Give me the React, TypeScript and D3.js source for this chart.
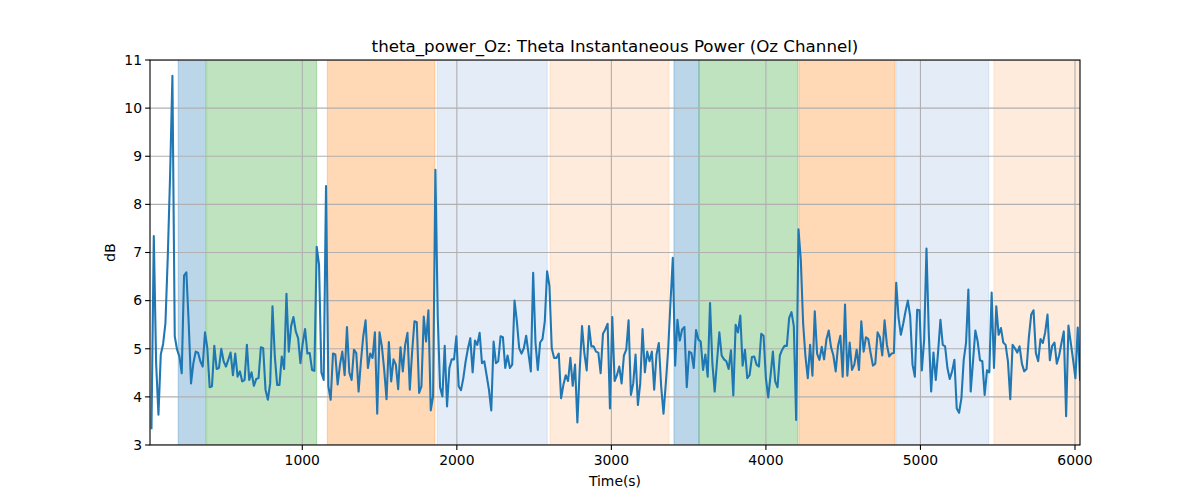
import React from "react";
import * as d3 from "d3";

const TITLE = "theta_power_Oz: Theta Instantaneous Power (Oz Channel)";
const X_LABEL = "Time(s)";
const Y_LABEL = "dB";

const X_DOMAIN = [14.5, 6032.4];
const T_START = 24;
const T_STEP = 15.06;

const POWER_DB: number[] = [
  3.35, 7.34, 4.7, 3.63, 4.88, 5.1, 5.53, 6.9, 8.6, 10.67,
  5.26, 4.98, 4.84, 4.49, 6.52, 6.59, 5.53, 4.28, 4.7, 4.94,
  4.92, 4.74, 4.63, 5.34, 5.01, 4.2, 4.22, 5.06, 4.58, 4.6,
  5.0, 4.74, 4.63, 4.77, 4.92, 4.45, 4.9, 4.42, 4.53, 4.32,
  4.35, 5.08, 4.35, 4.51, 4.23, 4.37, 4.39, 5.03, 5.01, 4.15,
  3.94, 4.28, 5.88, 4.84, 4.25, 4.25, 4.84, 4.58, 6.14, 4.94,
  5.47, 5.66, 5.36, 5.22, 4.7, 5.12, 5.41, 4.9, 4.91, 4.56,
  4.54, 7.12, 6.75, 4.51, 4.35, 8.38, 4.22, 3.94, 4.9, 4.88,
  4.26, 4.67, 4.94, 4.45, 5.45, 4.51, 4.35, 4.98, 4.91, 4.11,
  4.74, 5.26, 5.59, 4.6, 4.9, 4.81, 5.34, 3.65, 5.34, 5.05,
  4.56, 3.95, 5.14, 4.32, 4.78, 4.67, 4.16, 5.03, 4.53, 5.08,
  5.33, 4.15, 4.94, 5.57, 5.55, 4.08, 4.22, 5.67, 5.15, 5.8,
  3.72, 4.01, 8.72, 5.67, 4.2, 4.01, 5.06, 3.8, 4.6, 4.78,
  4.78, 5.26, 4.22, 4.14, 4.39, 4.74, 5.01, 5.22, 4.51, 5.17,
  5.08, 5.33, 4.7, 4.74, 4.45, 4.15, 3.72, 5.15, 4.7, 4.74,
  5.26, 5.24, 4.6, 4.86, 4.6, 4.67, 6.0, 5.57, 5.01, 4.9,
  5.01, 5.27, 4.9, 4.53, 6.58, 5.13, 4.56, 5.13, 5.2, 5.57,
  6.61, 6.3, 5.01, 4.81, 4.81, 4.9, 3.97, 4.25, 4.45, 4.33,
  4.81, 4.23, 4.67, 3.47, 4.56, 5.47, 4.91, 4.55, 5.47, 5.05,
  5.05, 4.94, 4.92, 4.49, 5.31, 5.4, 5.52, 3.76, 5.66, 4.33,
  4.45, 4.63, 4.28, 4.86, 4.98, 5.59, 4.04, 4.28, 4.88, 3.83,
  4.28, 5.41, 4.51, 4.94, 4.74, 4.94, 4.15, 4.88, 5.12, 4.22,
  3.65, 4.28, 4.98, 5.95, 6.89, 4.65, 5.6, 5.17, 5.4, 5.45,
  4.2, 4.94, 4.91, 4.6, 5.39, 5.19, 5.15, 4.56, 4.88, 4.42,
  5.95, 4.7, 4.11, 4.74, 5.34, 4.86, 4.78, 4.74, 4.58, 4.97,
  4.03, 5.5, 5.34, 5.69, 4.65, 4.98, 4.39, 4.45, 4.83, 4.84,
  4.67, 4.63, 5.31, 5.27, 4.39, 3.99, 4.44, 4.94, 4.32, 4.2,
  4.86, 4.98, 5.06, 5.06, 5.64, 5.76, 5.47, 3.52, 7.48, 6.85,
  5.53, 4.84, 4.39, 5.08, 4.44, 5.78, 4.9, 4.77, 5.04, 4.78,
  5.19, 5.38, 5.03, 4.86, 4.53, 5.06, 5.27, 4.42, 5.92, 4.44,
  5.13, 4.56, 4.67, 4.98, 4.56, 5.57, 4.94, 5.24, 5.2, 4.91,
  4.65, 4.69, 5.34, 5.24, 4.86, 5.59, 5.08, 4.84, 4.9, 4.91,
  6.37, 5.64, 5.29, 5.52, 5.78, 6.0, 5.67, 4.67, 4.42, 5.81,
  5.8, 4.55, 5.19, 7.08, 5.33, 4.11, 4.92, 4.35, 4.94, 5.6,
  5.08, 5.05, 4.6, 4.37, 4.53, 4.77, 3.76, 3.67, 3.97, 4.77,
  5.12, 6.23, 4.11, 4.74, 5.38, 5.15, 4.76, 4.74, 4.04, 4.55,
  4.51, 6.17, 4.6, 5.88, 5.29, 5.43, 5.13, 5.08, 4.74, 3.95,
  5.08, 5.01, 4.92, 5.05, 4.69, 4.53, 4.58, 5.24, 5.71, 5.8,
  4.91, 4.74, 5.2, 5.12, 5.34, 5.71, 4.76, 5.06, 5.13, 4.69,
  4.86, 5.12, 5.36, 3.6, 5.48, 5.12, 4.77, 4.39, 5.44, 4.35,
  5.08,
];

const TIMES: number[] = POWER_DB.map((_, i) => T_START + i * T_STEP);

const SPAN_STARTS = [197, 381, 1162, 1873, 2603, 3405, 3567, 4214, 4841, 5475];
const SPAN_ENDS = [375, 1093, 1858, 2585, 3373, 3567, 4207, 4835, 5442, 6040];
const SPAN_KINDS = ["blue", "green", "orange", "lightblue", "lightorange", "blue", "green", "orange", "lightblue", "lightorange"];

const SPAN_STYLE: Record<string, { color: string; alpha: number }> = {
  blue: { color: "#1f77b4", alpha: 0.3 },
  green: { color: "#2ca02c", alpha: 0.3 },
  orange: { color: "#ff7f0e", alpha: 0.3 },
  lightblue: { color: "#3a78c4", alpha: 0.14 },
  lightorange: { color: "#fb8a2e", alpha: 0.17 },
};

const Y_TICKS = [3, 4, 5, 6, 7, 8, 9, 10, 11];
const X_TICKS = [1000, 2000, 3000, 4000, 5000, 6000];

const W = 1200;
const H = 500;
const L = 150;
const R = 1080;
const T = 60;
const B = 445;
const FONT = "DejaVu Sans, sans-serif";

export default function App() {
  const x = d3.scaleLinear().domain(X_DOMAIN).range([L, R]);
  const y = d3.scaleLinear().domain([3, 11]).range([B, T]);
  const line = d3
    .line<number>()
    .x((_, i) => x(TIMES[i]))
    .y((d) => y(d));
  const pathD = line(POWER_DB) || "";

  return (
    <svg
      width={W}
      height={H}
      style={{ position: "absolute", left: 0, top: 0, background: "#fff" }}
      fontFamily={FONT}
    >
      <rect x={0} y={0} width={W} height={H} fill="#fff" />
      <defs>
        <clipPath id="plotclip">
          <rect x={L} y={T} width={R - L} height={B - T} />
        </clipPath>
      </defs>
      <g clipPath="url(#plotclip)">
        {SPAN_STARTS.map((s, i) => {
          const st = SPAN_STYLE[SPAN_KINDS[i]];
          const x0 = x(s);
          const x1 = Math.min(x(SPAN_ENDS[i]), R + 2);
          return (
            <rect
              key={"span" + i}
              x={x0}
              y={T - 2}
              width={x1 - x0}
              height={B - T + 4}
              fill={st.color}
              fillOpacity={st.alpha}
              stroke={st.color}
              strokeOpacity={st.alpha}
              strokeWidth={1}
            />
          );
        })}
        {Y_TICKS.map((t) => (
          <line key={"gy" + t} x1={L} x2={R} y1={y(t)} y2={y(t)} stroke="#b0b0b0" strokeWidth={1.1} />
        ))}
        {X_TICKS.map((t) => (
          <line key={"gx" + t} x1={x(t)} x2={x(t)} y1={T} y2={B} stroke="#b0b0b0" strokeWidth={1.1} />
        ))}
        <path d={pathD} fill="none" stroke="#1f77b4" strokeWidth={2.08} strokeLinejoin="round" strokeLinecap="square" />
      </g>
      <rect x={L} y={T} width={R - L} height={B - T} fill="none" stroke="#000" strokeWidth={1.1} />
      {Y_TICKS.map((t) => (
        <g key={"ty" + t}>
          <line x1={L - 4.9} x2={L} y1={y(t)} y2={y(t)} stroke="#000" strokeWidth={1.1} />
          <text x={L - 8} y={y(t)} dy="0.35em" textAnchor="end" fontSize={13.9} fill="#000">
            {t}
          </text>
        </g>
      ))}
      {X_TICKS.map((t) => (
        <g key={"tx" + t}>
          <line x1={x(t)} x2={x(t)} y1={B} y2={B + 4.9} stroke="#000" strokeWidth={1.1} />
          <text x={x(t)} y={B + 20} textAnchor="middle" fontSize={13.9} fill="#000">
            {t}
          </text>
        </g>
      ))}
      <text x={(L + R) / 2} y={486} textAnchor="middle" fontSize={13.9} fill="#000">
        {X_LABEL}
      </text>
      <text
        transform={`translate(${115},${(T + B) / 2}) rotate(-90)`}
        textAnchor="middle"
        fontSize={13.9}
        fill="#000"
      >
        {Y_LABEL}
      </text>
      <text x={(L + R) / 2} y={52} textAnchor="middle" fontSize={16.7} fill="#000">
        {TITLE}
      </text>
    </svg>
  );
}
